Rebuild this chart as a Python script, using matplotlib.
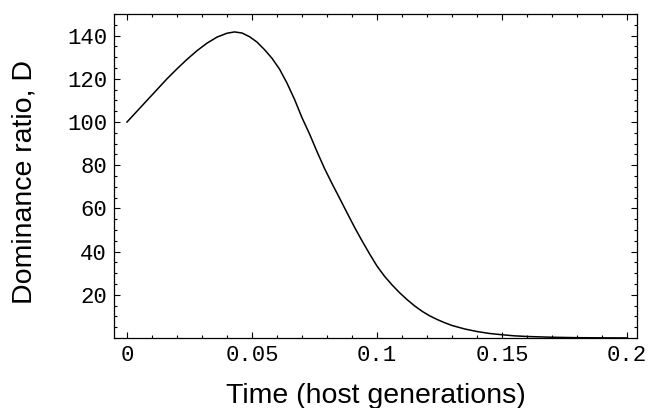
import matplotlib
matplotlib.use("Agg")
import matplotlib.pyplot as plt
from matplotlib.ticker import MultipleLocator, FixedLocator, FixedFormatter

# Data
time = [0.0, 0.004, 0.008, 0.012, 0.016, 0.020, 0.024, 0.028, 0.032, 0.036,
        0.040, 0.043, 0.046, 0.049, 0.052, 0.055, 0.058, 0.061, 0.064, 0.067,
        0.070, 0.073, 0.076, 0.079, 0.082, 0.085, 0.088, 0.091, 0.094, 0.097,
        0.100, 0.103, 0.106, 0.109, 0.112, 0.115, 0.118, 0.121, 0.124, 0.127,
        0.130, 0.135, 0.140, 0.145, 0.150, 0.155, 0.160, 0.170, 0.180, 0.190,
        0.200]
dominance = [100.0, 105.0, 110.0, 115.0, 120.0, 124.6, 129.0, 133.0, 136.5, 139.3,
             141.1, 141.7, 141.2, 139.5, 137.0, 133.5, 129.5, 124.5, 118.0, 110.5,
             102.0, 94.5, 86.3, 78.5, 71.5, 64.8, 58.0, 51.3, 45.0, 39.0,
             33.3, 28.6, 24.6, 21.0, 17.8, 14.9, 12.4, 10.3, 8.6, 7.1,
             5.8, 4.2, 3.0, 2.1, 1.5, 1.0, 0.7, 0.35, 0.15, 0.07,
             0.03]

x_ticks = [0, 0.05, 0.1, 0.15, 0.2]
x_tick_labels = ["0", "0.05", "0.1", "0.15", "0.2"]
y_ticks = [20, 40, 60, 80, 100, 120, 140]
y_tick_labels = ["20", "40", "60", "80", "100", "120", "140"]

fig = plt.figure(figsize=(6.48, 4.08), dpi=100)
ax = fig.add_axes([114 / 648, 1 - 338 / 408, (637 - 114) / 648, (338 - 14) / 408])

ax.plot(time, dominance, color="black", lw=1.1, solid_joinstyle="round")
ax.set_xlim(-0.0052, 0.2040)
ax.set_ylim(0, 150)

ax.xaxis.set_major_locator(FixedLocator(x_ticks))
ax.xaxis.set_major_formatter(FixedFormatter(x_tick_labels))
ax.xaxis.set_minor_locator(MultipleLocator(0.01))
ax.yaxis.set_major_locator(FixedLocator(y_ticks))
ax.yaxis.set_major_formatter(FixedFormatter(y_tick_labels))
ax.yaxis.set_minor_locator(MultipleLocator(5))

ax.tick_params(which="both", direction="in", top=True, right=True,
               width=0.8, colors="black")
ax.tick_params(which="major", length=4, pad=5, labelsize=16)
ax.tick_params(which="minor", length=2)
for lab in ax.get_xticklabels() + ax.get_yticklabels():
    lab.set_fontfamily("Liberation Mono")
for sp in ax.spines.values():
    sp.set_linewidth(0.9)

fig.text(376 / 648, 4.7 / 408, "Time (host generations)", ha="center",
         va="baseline", fontsize=20.5, family="Liberation Sans")
fig.text(31.7 / 648, 1 - 181.7 / 408, "Dominance ratio, D", ha="center",
         va="baseline", rotation=90, rotation_mode="anchor", fontsize=20.5,
         family="Liberation Sans")

fig.savefig("out.png", dpi=100)
